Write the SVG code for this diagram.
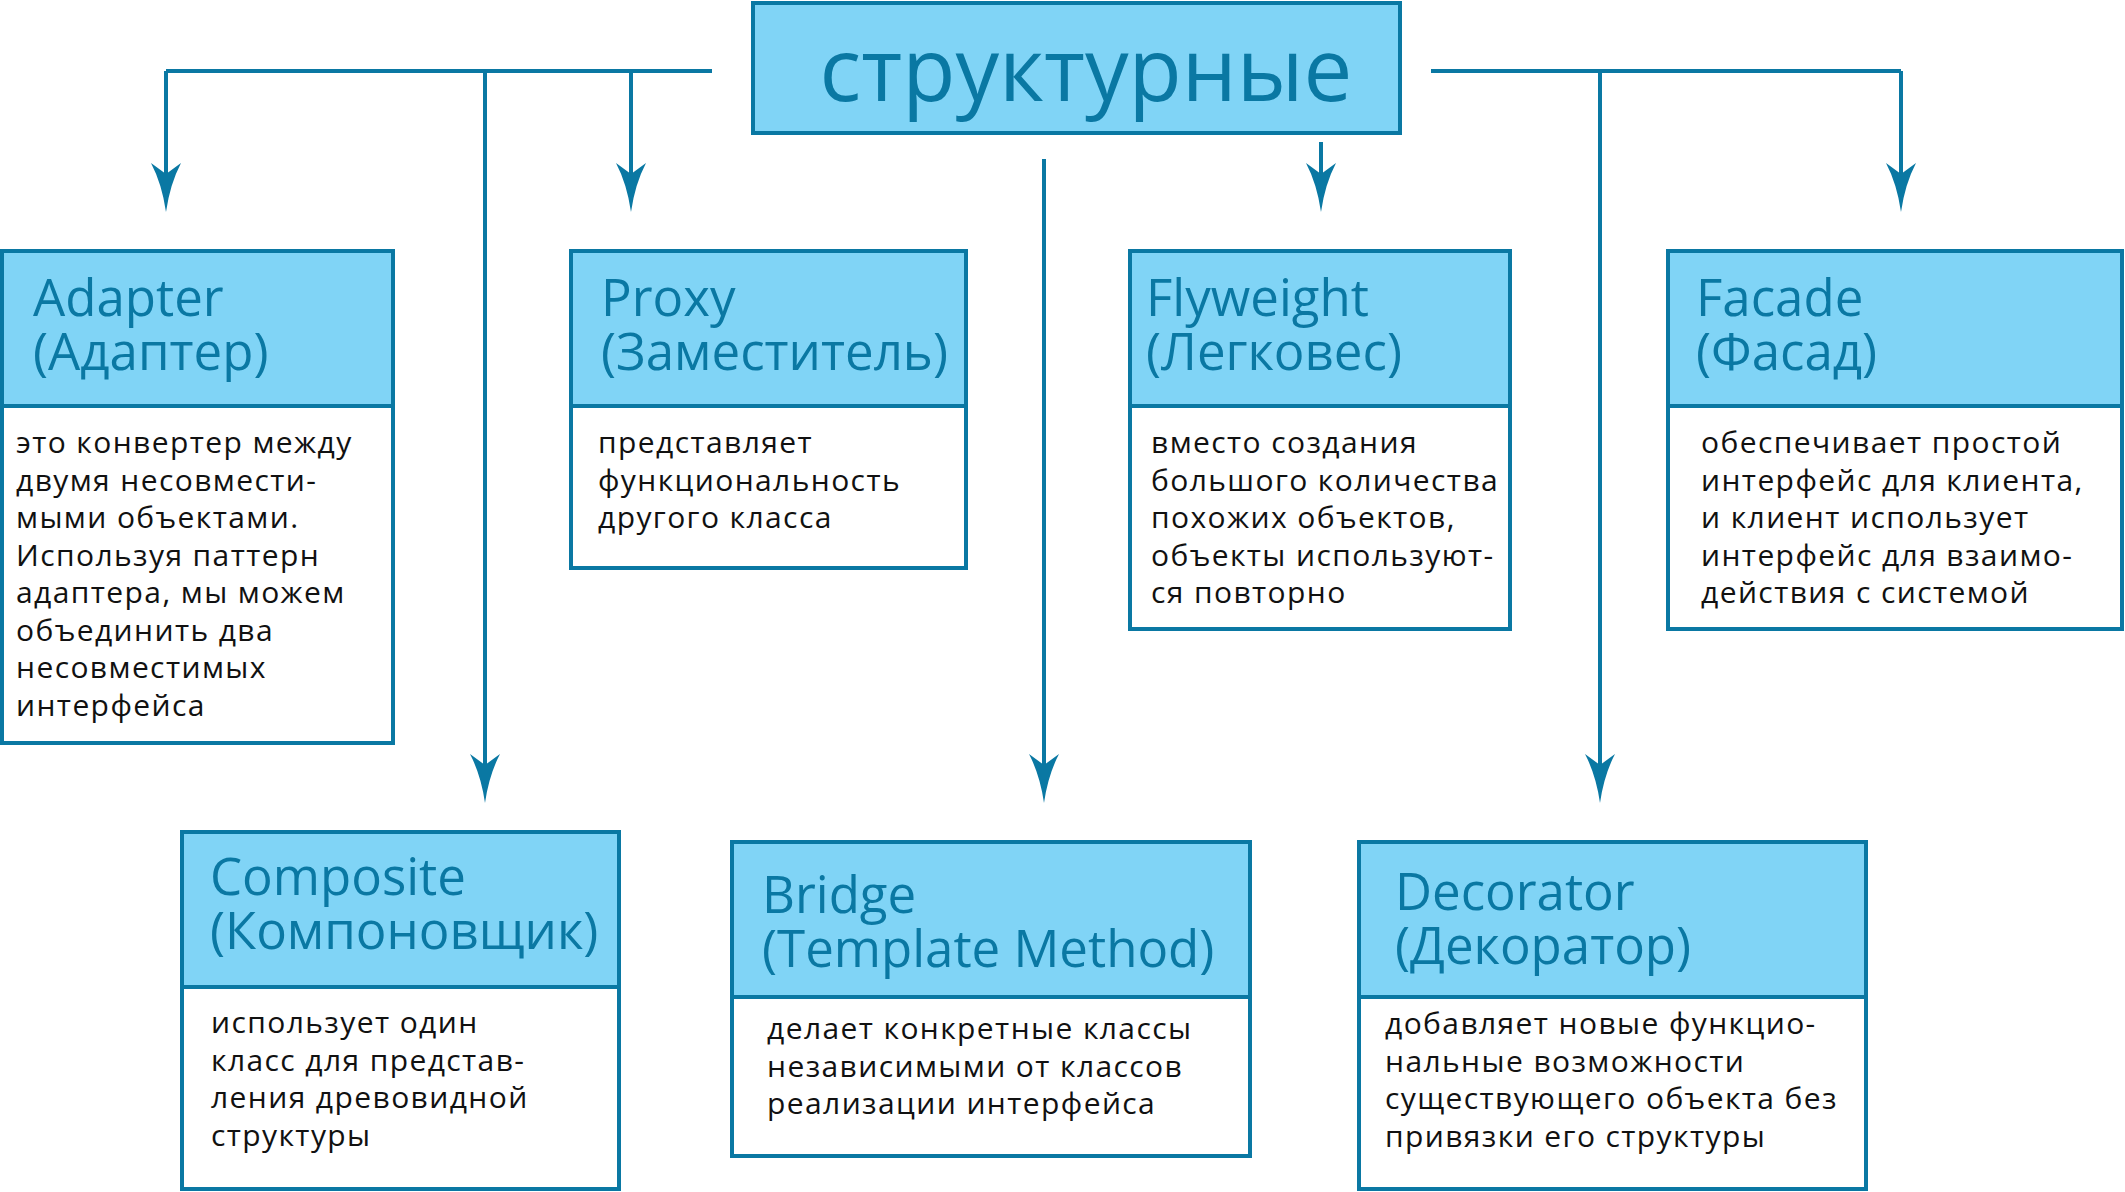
<svg xmlns="http://www.w3.org/2000/svg" width="2125" height="1192" viewBox="0 0 2125 1192">
<defs>
<style>
.hdr{fill:#80d4f6;stroke:#0a78a3;stroke-width:4}
.bdy{fill:#ffffff;stroke:#0a78a3;stroke-width:4}
.ht{font-family:"Open Sans","Noto Sans",sans-serif;font-size:51px;fill:#0a78a3}
.bt{font-family:"Open Sans","Noto Sans",sans-serif;font-size:30px;letter-spacing:1.4px;fill:#111111}
.tt{font-family:"Open Sans","Noto Sans",sans-serif;font-size:87px;fill:#0a78a3}
.ln{fill:none;stroke:#0a78a3;stroke-width:4;marker-end:url(#arr)}
.lp{fill:none;stroke:#0a78a3;stroke-width:4}
</style>
<marker id="arr" markerUnits="userSpaceOnUse" orient="auto" refX="0" refY="0" markerWidth="60" markerHeight="40" overflow="visible">
<path d="M30,0 Q2,-4 -19,-15 L-8,0 L-19,15 Q2,4 30,0 Z" fill="#0a78a3"/>
</marker>
</defs>

<g id="connectors">
<path class="lp" d="M166,71 H712"/>
<path class="ln" d="M166,71 V182"/>
<path class="ln" d="M485,71 V773"/>
<path class="ln" d="M631,71 V182"/>
<path class="lp" d="M1431,71 H1901"/>
<path class="ln" d="M1600,71 V773"/>
<path class="ln" d="M1901,71 V182"/>
<path class="ln" d="M1321,142 V182"/>
<path class="ln" d="M1044,159 V773"/>
</g>

<g id="title">
<rect class="hdr" x="753" y="3" width="647" height="130"/>
<text class="tt" x="1086" y="101" text-anchor="middle">структурные</text>
</g>

<g id="adapter">
<rect class="bdy" x="2" y="251" width="391" height="492"/>
<rect class="hdr" x="2" y="251" width="391" height="155"/>
<text class="ht"><tspan x="33" y="316">Adapter</tspan><tspan x="33" y="370">(Адаптер)</tspan></text>
<text class="bt"><tspan x="16" y="453">это конвертер между</tspan><tspan x="16" y="490.5">двумя несовмести-</tspan><tspan x="16" y="528">мыми объектами.</tspan><tspan x="16" y="565.5">Используя паттерн</tspan><tspan x="16" y="603">адаптера, мы можем</tspan><tspan x="16" y="640.5">объединить два</tspan><tspan x="16" y="678">несовместимых</tspan><tspan x="16" y="715.5">интерфейса</tspan></text>
</g>

<g id="proxy">
<rect class="bdy" x="571" y="251" width="395" height="317"/>
<rect class="hdr" x="571" y="251" width="395" height="155"/>
<text class="ht"><tspan x="601" y="316">Proxy</tspan><tspan x="601" y="370">(Заместитель)</tspan></text>
<text class="bt"><tspan x="598" y="453">представляет</tspan><tspan x="598" y="490.5">функциональность</tspan><tspan x="598" y="528">другого класса</tspan></text>
</g>

<g id="flyweight">
<rect class="bdy" x="1130" y="251" width="380" height="378"/>
<rect class="hdr" x="1130" y="251" width="380" height="155"/>
<text class="ht"><tspan x="1146" y="316">Flyweight</tspan><tspan x="1146" y="370">(Легковес)</tspan></text>
<text class="bt"><tspan x="1151" y="453">вместо создания</tspan><tspan x="1151" y="490.5">большого количества</tspan><tspan x="1151" y="528">похожих объектов,</tspan><tspan x="1151" y="565.5">объекты используют-</tspan><tspan x="1151" y="603">ся повторно</tspan></text>
</g>

<g id="facade">
<rect class="bdy" x="1668" y="251" width="454" height="378"/>
<rect class="hdr" x="1668" y="251" width="454" height="155"/>
<text class="ht"><tspan x="1696" y="316">Facade</tspan><tspan x="1696" y="370">(Фасад)</tspan></text>
<text class="bt"><tspan x="1701" y="453">обеспечивает простой</tspan><tspan x="1701" y="490.5">интерфейс для клиента,</tspan><tspan x="1701" y="528">и клиент использует</tspan><tspan x="1701" y="565.5">интерфейс для взаимо-</tspan><tspan x="1701" y="603">действия с системой</tspan></text>
</g>

<g id="composite">
<rect class="bdy" x="182" y="832" width="437" height="357"/>
<rect class="hdr" x="182" y="832" width="437" height="155"/>
<text class="ht"><tspan x="210" y="895">Composite</tspan><tspan x="210" y="949">(Компоновщик)</tspan></text>
<text class="bt"><tspan x="211" y="1033">использует один</tspan><tspan x="211" y="1070.5">класс для представ-</tspan><tspan x="211" y="1108">ления древовидной</tspan><tspan x="211" y="1145.5">структуры</tspan></text>
</g>

<g id="bridge">
<rect class="bdy" x="732" y="842" width="518" height="314"/>
<rect class="hdr" x="732" y="842" width="518" height="155"/>
<text class="ht"><tspan x="762" y="913">Bridge</tspan><tspan x="762" y="967">(Template Method)</tspan></text>
<text class="bt"><tspan x="767" y="1039">делает конкретные классы</tspan><tspan x="767" y="1076.5">независимыми от классов</tspan><tspan x="767" y="1114">реализации интерфейса</tspan></text>
</g>

<g id="decorator">
<rect class="bdy" x="1359" y="842" width="507" height="347"/>
<rect class="hdr" x="1359" y="842" width="507" height="155"/>
<text class="ht"><tspan x="1395" y="910">Decorator</tspan><tspan x="1395" y="964">(Декоратор)</tspan></text>
<text class="bt"><tspan x="1385" y="1034">добавляет новые функцио-</tspan><tspan x="1385" y="1071.5">нальные возможности</tspan><tspan x="1385" y="1109">существующего объекта без</tspan><tspan x="1385" y="1146.5">привязки его структуры</tspan></text>
</g>
</svg>
